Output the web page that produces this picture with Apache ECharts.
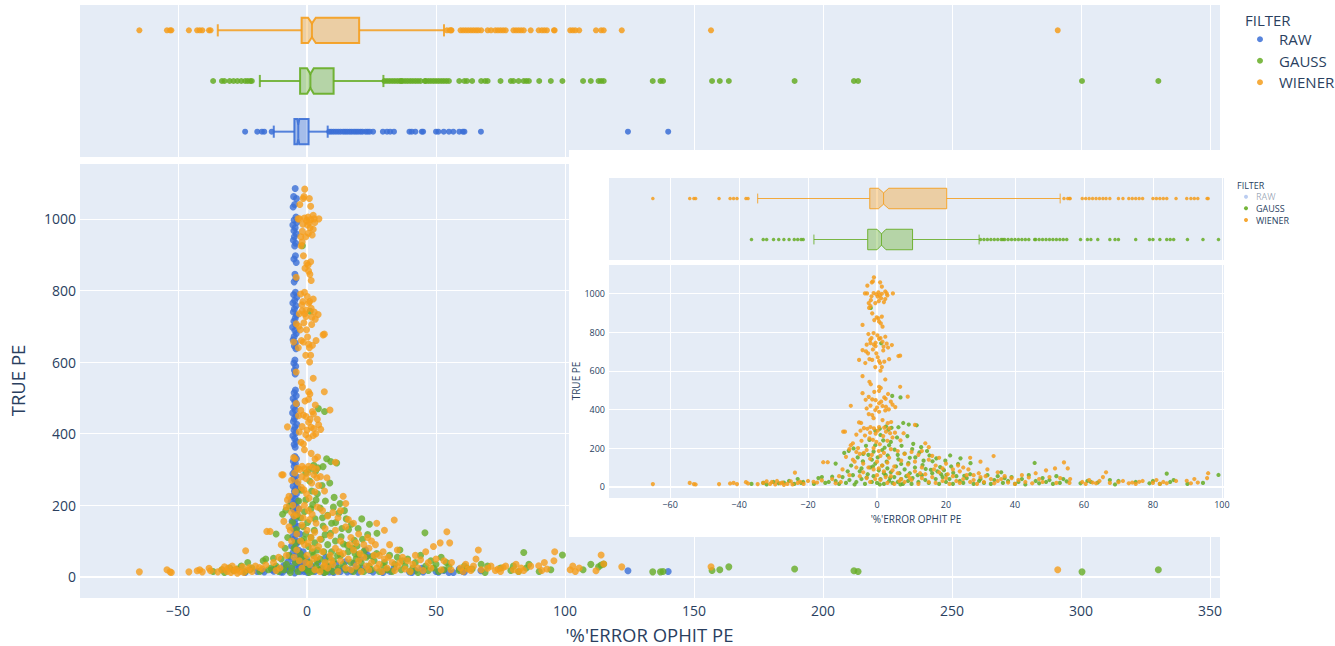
<!DOCTYPE html>
<html><head><meta charset="utf-8">
<script src="https://cdn.jsdelivr.net/npm/echarts@6/dist/echarts.min.js"></script>
<style>html,body{margin:0;padding:0;background:#fff}#chart{width:1335px;height:646px}</style>
</head><body><div id="chart"></div>
<script>
// ---------------- DATA ----------------
const filterNames = ['RAW', 'GAUSS', 'WIENER'];
const filterColors = ['#3b6fd6', '#66ad25', '#f59d1c'];

// box statistics (RAW, GAUSS, WIENER)
const boxLow   = [-12.9, -18.3, -34.6];
const boxQ1    = [-4.9, -2.7, -2.1];
const boxMed   = [-3.4, 1.3, 1.9];
const boxQ3    = [0.6, 10.3, 20.2];
const boxHigh  = [8.0, 29.6, 53.1];
const boxNotch = [0.4, 1.3, 1.5];

// [ '%'ERROR OPHIT PE , TRUE PE ]
const rawPoints = [
[-4.6,1085],[-5.2,1062],[-4.1,1057],[-4.8,1040],[-5.4,1033],[-4.3,1005],[-5.0,997],[-4.0,990],[-5.5,983],[-4.6,975],[-5.1,967],[-4.2,958],[-4.9,950],[-5.3,940],[-4.4,932],[-4.8,924],[-4.5,897],[-5.1,888],[-4.2,878],[-4.7,845],[-4.3,833],[-5.0,824],[-4.5,795],[-5.2,788],[-4.0,781],[-4.8,772],[-5.5,765],[-4.3,757],[-4.9,748],[-5.3,740],[-4.1,731],[-4.6,722],[-5.1,714],[-4.4,705],[-5.6,697],[-4.7,688],[-4.2,680],[-5.0,671],[-5.4,662],[-4.5,653],[-4.9,645],[-4.3,637],[-4.7,606],[-5.1,597],[-4.4,588],[-4.9,577],[-4.6,567],[-4.5,522],[-5.0,514],[-4.2,506],[-5.4,498],[-4.7,490],[-4.1,482],[-5.2,474],[-4.6,466],[-5.6,458],[-4.3,450],[-4.9,442],[-5.3,434],[-4.0,426],[-4.7,418],[-5.1,410],[-4.4,402],[-5.5,394],[-4.8,386],[-4.2,378],[-5.0,370],[-4.6,362],
[-4.7,336],[-4.1,330],[-5.3,323],[-4.5,316],[-5.0,309],[-3.9,302],[-4.8,295],[-5.5,288],[-4.3,281],[-5.1,274],[-4.6,267],[-3.8,260],[-5.4,253],[-4.4,246],[-4.9,239],[-4.1,232],[-5.6,225],[-4.5,218],[-3.7,211],[-5.0,204],[-4.3,197],[-5.3,190],[-4.7,183],[-3.9,176],[-5.1,169],[-4.4,162],[-5.8,155],[-4.8,148],[-3.6,141],[-5.2,134],[-4.5,127],[-4.0,120],[-5.5,113],[-4.9,106],[-3.4,99],[-4.2,92],[-6.0,86],[-4.7,80],[-3.2,74],[-5.4,68],[-4.0,62],[-6.6,57],[-2.8,52],[-5.0,47],[-7.4,42],[-3.6,38],[-1.8,34],[-5.8,30],[-8.2,26],[-4.4,23],[-0.9,20],[-6.9,17],[-2.6,15],[-9.5,13],[0.2,12],[-4.8,11],
[-2.0,60],[-1.0,45],[-0.5,30],[0.3,25],[0.6,18],[-1.5,70],[-3.0,28],[-2.2,40],[-1.2,15],[-0.2,50],[-3.3,190],[-3.0,245],[-2.8,120],[-6.2,210],
[-24.0,12],[-19.3,15],[-17.5,18],[-16.6,14],[-13.7,20],[-12.9,16],[-11.5,24],[-10.2,14],[-9.0,32],[-7.8,20],[1.8,30],[3.0,15],[4.2,40],[5.5,22],[6.5,12],[7.2,55],[8.0,28],[8.6,14],[9.4,20],[10.3,12],[11.2,35],[12.1,18],[13.0,15],[14.0,25],[14.8,42],[15.6,14],[16.5,20],[17.3,15],[18.2,38],[19.0,22],[19.8,13],[20.7,50],[21.5,25],[22.7,75],[23.5,60],[24.3,18],[25.6,14],[29.4,12],[31.0,20],[32.2,15],[33.7,25],[39.7,14],[40.6,12],[42.0,18],[44.5,24],[45.0,14],[50.0,15],[50.9,13],[53.0,18],[55.0,12],[56.7,12],[59.0,22],[60.4,15],[61.0,14],[67.4,17],[124.4,17],[140.0,15]
];

const gaussPoints = [
[4.4,470],[6.8,462],[1.2,742],[-1.8,925],[9.2,322],[11.5,318],[2.6,312],[4.2,305],[6.2,308],[7.6,330],[0.8,300],[-0.5,290],[3.3,295],
[-9.5,175],[-8.2,186],[-6.8,198],[-5.6,152],[-4.1,132],[-3.2,212],[-2.2,242],[-1.0,182],[0.2,152],[1.0,268],[2.2,202],[3.1,162],[4.0,232],[5.1,192],[6.2,142],[7.1,212],[8.0,172],[9.1,122],[10.2,195],[11.1,152],[12.3,178],[13.2,112],[14.1,92],[15.2,162],[16.1,132],[17.2,147],[18.3,102],[19.4,86],[20.1,62],[21.2,162],[22.1,72],[24.2,147],[25.3,57],[27.1,122],[-12.0,120],[-7.5,110],[-2.5,165],[-0.5,215],[1.8,240],[5.8,255],[8.8,262],[12.8,205],[2.8,130],[-1.2,105],[19.8,135],[23.5,118],[14.5,185],[10.5,222],
[-18.3,15],[-17.0,45],[-16.0,50],[-15.0,20],[-14.0,25],[-12.0,30],[-11.0,15],[-10.0,50],[-9.0,20],[-8.0,35],[-7.0,60],[-6.0,25],[-5.0,80],[-4.5,40],[-3.5,15],[-2.7,65],[-2.0,100],[-1.5,25],[-1.0,55],[-0.5,120],[0.0,20],[0.5,85],[1.0,40],[1.5,110],[2.0,15],[2.5,60],[3.0,95],[3.5,30],[4.0,75],[4.5,20],[5.0,50],[5.5,105],[6.0,25],[6.5,70],[7.0,40],[7.5,15],[8.0,90],[8.5,55],[9.0,30],[9.5,70],[10.0,15],[10.3,45],[11.0,100],[12.0,25],[13.0,60],[14.0,35],[15.0,20],[16.0,70],[17.0,40],[18.0,15],[19.0,50],[20.0,25],[21.0,40],[22.0,15],[23.0,55],[24.0,30],[25.0,20],[26.0,45],[27.0,65],[28.0,15],[29.6,30],[-6.5,12],[-3.0,48],[0.8,12],[3.8,45],[6.8,12],[11.8,60],[15.6,88],[18.6,65],[-13.0,52],[-4.0,170],[-1.5,140],[1.5,190],[3.5,215],[6.0,165],[9.5,150],[-8.5,80],[-4.5,95],[2.0,70],[7.0,118],[13.5,135],[17.5,80],[21.5,105],
[-36.4,15],[-33.0,20],[-32.0,12],[-30.0,25],[-28.5,18],[-27.0,22],[-25.5,30],[-24.0,15],[-23.0,40],[-22.0,20],[-21.4,25],
[30.0,40],[31.0,20],[32.0,60],[33.0,15],[34.0,35],[35.0,55],[36.0,75],[36.5,20],[37.0,45],[38.0,30],[39.0,50],[40.0,15],[41.0,25],[42.0,40],[43.0,12],[44.0,60],[45.7,123],[46.0,30],[47.0,18],[48.0,45],[49.0,25],[50.0,35],[51.0,15],[52.0,55],[53.0,20],[54.0,40],[55.0,28],[59.0,18],[61.0,30],[62.0,25],[64.0,22],[67.5,35],[69.0,12],[70.0,30],[75.0,25],[79.0,18],[80.0,30],[82.0,15],[84.0,68],[85.0,25],[86.0,35],[90.0,15],[94.5,20],[99.0,61],[107.0,20],[110.0,35],[113.0,28],[114.0,33],[115.0,36],[134.0,14],[137.0,14],[138.0,15],[157.0,18],[160.0,20],[163.5,28],[189.0,22],[212.0,17],[213.6,15],[300.4,14],[330.0,20]
];

const wienerPoints = [
[-0.9,1083],[-1.5,1057],[-1.2,1062],[0.9,1057],[1.4,1035],[-2.9,1000],[-1.0,1002],[0.4,1005],[1.4,998],[2.4,1010],[4.6,1000],[0.2,983],[1.2,975],[2.4,971],[-2.4,950],[-1.9,935],[-2.3,925],[-0.5,950],[-1.4,897],[0.4,871],[-0.1,876],[1.4,880],[0.6,854],[1.1,845],[1.6,828],[-4.2,837],[-1.0,795],[-2.5,790],[-1.6,769],[0.1,783],[1.0,769],[2.4,776],[-1.9,743],[-0.9,735],[-0.4,727],[0.6,765],[1.6,750],[-4.2,707],[-2.6,690],[-5.2,656],[-1.4,656],[0.6,650],[2.1,647],[4.3,733],[6.2,676],[6.7,678],[-0.5,619],[1.4,619],[2.4,555],[-4.2,572],[-2.2,543],[0.6,517],[1.1,511],[6.7,517],[-0.8,491],[0.6,496],[-2.4,465],[-1.4,452],[-0.4,448],[2.1,462],[-4.2,484],[8.9,466],[0.6,432],[1.6,418],[2.6,414],[-7.6,419],[-0.5,397],[0.6,388],[-2.4,376],[-1.4,371],[-4.6,330],[-5.2,333],[-3.8,303],[-2.8,300],[-1.9,309],[-0.9,302],[0.6,309],[2.1,306],[3.6,302],[3.1,329],[4.1,335],[3.8,277],[5.2,280],[7.7,277],[11.0,320],[-9.8,285],[-9.3,285],[-7.6,215],[-7.0,225],[-2.2,250],[-1.2,243],[-0.2,232],[5.3,412],[-3.2,700],[-0.2,690],[1.8,705],[-2.8,1040],[3.0,990],[-1.6,985],[2.0,955],[-0.8,862],[-2.0,760],[3.2,720],[-3.4,640],[1.0,600],[-1.8,530],[3.2,480],[4.0,440],[-3.0,405],[2.4,395],[-1.0,355],[1.6,345],[-6.0,270],[-3.5,265],[-0.4,275],[1.8,262],[4.5,255],[0.8,220],[3.0,238],[6.8,240],[-4.5,238],
[-3.5,1000],[-0.2,995],[2.8,1000],[0.8,990],[-1.8,965],[0.5,960],[-0.4,745],[2.8,740],[-3.0,735],[1.9,725],[-1.2,710],[0.2,670],[3.5,660],[-2.2,660],[0.9,640],[2.5,455],[-3.3,450],[1.2,440],[4.5,425],[-1.9,420],[0.0,410],[3.4,400],[-4.8,290],[-2.0,280],[0.2,290],[2.6,285],[-5.5,200],[-3.8,175],[-1.5,165],[1.0,160],[3.5,150],[-6.5,130],[-2.5,100],[0.5,95],[4.5,85],[-5.0,55],[-0.5,40],[2.5,50],[6.5,30],[9.5,45],[12.5,70],[16.5,90],[20.5,65],[23.5,110],[26.5,90],[29.5,70],[31.5,55],
[-8.0,195],[-6.0,180],[-5.0,170],[-3.0,190],[-1.0,200],[0.5,185],[2.0,175],[4.0,195],[6.0,185],[8.0,170],[10.0,180],[12.0,165],[13.0,185],[14.0,225],[15.0,205],[16.0,160],[-15.6,127],[-14.3,127],[-9.0,155],[-7.0,140],[-4.0,120],[-2.0,145],[0.0,130],[1.5,110],[3.0,125],[5.0,105],[7.0,135],[9.0,115],[11.0,130],[13.0,100],[15.0,140],[17.0,110],[18.0,150],[19.0,95],[20.0,120],[22.0,90],[24.0,80],[25.0,100],[27.0,150],[28.0,60],[30.0,130],[32.0,90],[33.8,159],[35.0,75],[36.0,40],[-10.0,90],[-8.0,60],[-6.0,100],[-4.0,75],[-3.0,45],[-2.0,25],[-1.0,90],[0.0,60],[1.0,35],[2.0,80],[3.0,20],[4.0,55],[5.0,15],[6.0,70],[7.0,40],[8.0,25],[9.0,60],[10.0,35],[11.0,80],[12.0,15],[13.0,45],[14.0,65],[15.0,25],[16.0,50],[17.0,20],[18.0,75],[19.0,30],[20.0,45],[21.0,15],[22.0,55],[23.0,30],[24.0,20],[25.0,40],[26.0,60],[27.0,25],[28.0,35],[29.0,15],[30.0,50],[31.0,25],[33.0,40],[34.0,18],[35.0,30],[37.0,55],[38.0,22],[39.0,45],[40.0,15],[41.0,35],[42.0,60],[43.0,25],[44.0,48],[45.0,18],[46.0,70],[47.0,40],[48.0,25],[49.0,85],[50.0,50],[51.6,95],[52.0,20],[53.1,45],
[-65.0,14],[-54.3,20],[-53.1,14],[-52.6,12],[-45.8,14],[-42.6,17],[-41.6,20],[-40.6,14],[-38.0,24],[-37.4,17],[-34.6,14],[-33.0,20],[-32.0,28],[-31.0,15],[-30.5,25],[-29.5,12],[-29.0,30],[-28.0,18],[-27.5,22],[-27.0,10],[-26.0,15],[-25.0,28],[-24.5,12],[-23.8,73],[-23.0,20],[-22.3,26],[-21.3,15],[-20.0,30],[-18.4,26],[-17.4,22],[-16.0,33],[-13.0,40],[-12.0,18],[-11.0,55],[-10.5,25],
[54.2,126],[55.3,95],[55.8,20],[56.0,40],[59.5,25],[60.5,15],[61.5,35],[62.5,22],[63.5,18],[64.5,30],[65.5,50],[66.4,75],[67.5,20],[70.0,24],[71.3,30],[73.0,18],[74.0,22],[75.0,15],[76.0,26],[77.0,30],[80.0,20],[81.0,35],[82.0,15],[83.0,25],[84.0,18],[86.7,30],[89.8,31],[91.0,18],[92.0,40],[93.0,22],[95.7,45],[96.0,70],[102.0,20],[103.0,30],[104.0,15],[105.5,25],[112.0,17],[114.0,61],[115.0,36],[122.0,28],[156.6,28],[291.0,20]
];

const allPoints = [rawPoints, gaussPoints, wienerPoints];

// ---------------- CHART ----------------
const FONT = "'Open Sans', 'Noto Sans', sans-serif";
const TXT = '#2a3f5f';
const BG = '#E5ECF6';
const fmt = v => (v < 0 ? '\u2212' + Math.abs(v) : String(v));

function boxRender(lineW) {
  return function (params, api) {
    const cat = api.value(0);
    const lo = api.value(1), q1 = api.value(2), med = api.value(3), q3 = api.value(4), hi = api.value(5), nh = api.value(6), fi = api.value(7);
    const color = filterColors[fi];
    const band = api.size([0, 1])[1];
    const y = api.coord([med, cat])[1];
    const X = v => api.coord([v, cat])[0];
    const hh = band * 0.25, inner = hh * 0.55, cap = band * 0.12;
    const xq1 = X(q1), xq3 = X(q3), xm = X(med), xa = X(med - nh), xb = X(med + nh), xl = X(lo), xh = X(hi);
    const pts = [[xq1, y - hh], [xa, y - hh], [xm, y - inner], [xb, y - hh], [xq3, y - hh], [xq3, y + hh], [xb, y + hh], [xm, y + inner], [xa, y + hh], [xq1, y + hh]];
    const ls = { stroke: color, lineWidth: lineW, opacity: 0.85 };
    return { type: 'group', children: [
      { type: 'line', shape: { x1: xl, y1: y, x2: xq1, y2: y }, style: ls },
      { type: 'line', shape: { x1: xq3, y1: y, x2: xh, y2: y }, style: ls },
      { type: 'line', shape: { x1: xl, y1: y - cap, x2: xl, y2: y + cap }, style: ls },
      { type: 'line', shape: { x1: xh, y1: y - cap, x2: xh, y2: y + cap }, style: ls },
      { type: 'polygon', shape: { points: pts }, style: { fill: echarts.color.modifyAlpha(color, 0.42), stroke: color, lineWidth: lineW, opacity: 0.9 } },
      { type: 'line', shape: { x1: xm, y1: y - inner, x2: xm, y2: y + inner }, style: ls }
    ] };
  };
}

function boxData(indices) {
  return indices.map((fi, k) => [k, boxLow[fi], boxQ1[fi], boxMed[fi], boxQ3[fi], boxHigh[fi], boxNotch[fi], fi]);
}
function outliers(fi, k) {
  return allPoints[fi].filter(p => p[0] < boxLow[fi] || p[0] > boxHigh[fi]).map(p => [p[0], k]);
}

const hiddenAxis = { axisLine: { show: false }, axisTick: { show: false } };
const whiteSplit = (w) => ({ show: true, lineStyle: { color: '#ffffff', width: w } });
const zeroMark = (dir, z) => ({
  silent: true, symbol: ['none', 'none'], z: z, label: { show: false },
  lineStyle: { color: '#ffffff', width: 2, type: 'solid' }, emphasis: { disabled: true },
  data: dir.map(d => (d === 'x' ? { xAxis: 0 } : { yAxis: 0 }))
});

const series = [];
// main box panel
series.push({ type: 'custom', name: 'box-main', xAxisIndex: 0, yAxisIndex: 0, z: 3, data: boxData([0, 1, 2]), encode: { x: [1, 2, 3, 4, 5], y: 0 }, renderItem: boxRender(2), silent: true });
[0, 1, 2].forEach(fi => {
  series.push({ type: 'scatter', name: filterNames[fi], xAxisIndex: 0, yAxisIndex: 0, z: 3, symbolSize: 6,
    itemStyle: { color: filterColors[fi], opacity: 0.85 }, data: outliers(fi, fi),
    markLine: fi === 0 ? zeroMark(['x'], 1) : undefined });
});
// main scatter panel
[0, 1, 2].forEach(fi => {
  series.push({ type: 'scatter', name: filterNames[fi], xAxisIndex: 1, yAxisIndex: 1, z: 2, symbolSize: 7,
    itemStyle: { color: filterColors[fi], opacity: 0.8 }, data: allPoints[fi],
    markLine: fi === 0 ? zeroMark(['x', 'y'], 1) : undefined });
});
// inset box panel (RAW hidden)
series.push({ type: 'custom', name: 'box-inset', xAxisIndex: 2, yAxisIndex: 2, z: 14, data: boxData([1, 2]), encode: { x: [1, 2, 3, 4, 5], y: 0 }, renderItem: boxRender(1), silent: true });
[1, 2].forEach((fi, k) => {
  series.push({ type: 'scatter', name: filterNames[fi], xAxisIndex: 2, yAxisIndex: 2, z: 14, symbolSize: 3.5,
    itemStyle: { color: filterColors[fi], opacity: 0.85 }, data: outliers(fi, k),
    markLine: k === 0 ? zeroMark(['x'], 12) : undefined });
});
// inset scatter panel
[1, 2].forEach((fi, k) => {
  series.push({ type: 'scatter', name: filterNames[fi], xAxisIndex: 3, yAxisIndex: 3, z: 13, symbolSize: 4.2,
    itemStyle: { color: filterColors[fi], opacity: 0.85 }, data: allPoints[fi],
    markLine: k === 0 ? zeroMark(['x', 'y'], 12) : undefined });
});

const insetLegendY = [196.7, 208.3, 220];
const graphics = [
  { type: 'rect', z: 10, silent: true, shape: { x: 569, y: 150, width: 780, height: 387 }, style: { fill: '#ffffff' } },
  { type: 'text', z: 1, x: 1245, y: 20, style: { text: 'FILTER', fontSize: 15, fontFamily: FONT, fill: TXT, verticalAlign: 'middle', align: 'left' } },
  { type: 'text', z: 16, x: 1237, y: 185, style: { text: 'FILTER', fontSize: 9, fontFamily: FONT, fill: TXT, verticalAlign: 'middle', align: 'left' } }
];
filterNames.forEach((n, i) => {
  const hidden = i === 0;
  graphics.push({ type: 'circle', z: 16, shape: { cx: 1246, cy: insetLegendY[i], r: 2 }, style: { fill: filterColors[i], opacity: hidden ? 0.35 : 0.9 } });
  graphics.push({ type: 'text', z: 16, x: 1256, y: insetLegendY[i], style: { text: n, fontSize: 9, fontFamily: FONT, fill: TXT, opacity: hidden ? 0.45 : 1, verticalAlign: 'middle', align: 'left' } });
});

const gridBase = { show: true, backgroundColor: BG, borderWidth: 0, containLabel: false, outerBoundsMode: 'none' };
const option = {
  backgroundColor: '#ffffff',
  animation: false,
  textStyle: { fontFamily: FONT },
  grid: [
    Object.assign({ left: 79, top: 5, width: 1141, height: 152, z: 0 }, gridBase),
    Object.assign({ left: 79, top: 163, width: 1141, height: 435, z: 0 }, gridBase),
    Object.assign({ left: 608, top: 178, width: 616, height: 82, z: 11 }, gridBase),
    Object.assign({ left: 608, top: 264, width: 616, height: 234, z: 11 }, gridBase)
  ],
  xAxis: [
    Object.assign({ gridIndex: 0, type: 'value', min: -88.4, max: 353.9, minInterval: 50, maxInterval: 50, z: 1,
      axisLabel: { show: false }, splitLine: whiteSplit(1) }, hiddenAxis),
    Object.assign({ gridIndex: 1, type: 'value', min: -88.4, max: 353.9, minInterval: 50, maxInterval: 50, z: 1,
      axisLabel: { show: true, formatter: fmt, fontSize: 14, color: TXT, margin: 5, showMinLabel: false, showMaxLabel: false },
      splitLine: whiteSplit(1),
      name: "'%'ERROR OPHIT PE", nameLocation: 'middle', nameGap: 27, nameTextStyle: { fontSize: 18.5, lineHeight: 19, color: TXT } }, hiddenAxis),
    Object.assign({ gridIndex: 2, type: 'value', min: -78, max: 100.6, minInterval: 20, maxInterval: 20, z: 12,
      axisLabel: { show: false }, splitLine: whiteSplit(1) }, hiddenAxis),
    Object.assign({ gridIndex: 3, type: 'value', min: -78, max: 100.6, minInterval: 20, maxInterval: 20, z: 12,
      axisLabel: { show: true, formatter: fmt, fontSize: 9, color: TXT, margin: 2, showMinLabel: false, showMaxLabel: false },
      splitLine: whiteSplit(1),
      name: "'%'ERROR OPHIT PE", nameLocation: 'middle', nameGap: 16, nameTextStyle: { fontSize: 10, color: TXT } }, hiddenAxis)
  ],
  yAxis: [
    Object.assign({ gridIndex: 0, type: 'category', data: filterNames, z: 1, axisLabel: { show: false }, splitLine: { show: false } }, hiddenAxis),
    Object.assign({ gridIndex: 1, type: 'value', min: -59, max: 1156, minInterval: 200, maxInterval: 200, z: 1,
      axisLabel: { show: true, formatter: fmt, fontSize: 14, color: TXT, margin: 3, showMinLabel: false, showMaxLabel: false },
      splitLine: whiteSplit(1),
      name: 'TRUE PE', nameLocation: 'middle', nameGap: 52, nameTextStyle: { fontSize: 18.5, lineHeight: 19, color: TXT } }, hiddenAxis),
    Object.assign({ gridIndex: 2, type: 'category', data: ['GAUSS', 'WIENER'], z: 12, axisLabel: { show: false }, splitLine: { show: false } }, hiddenAxis),
    Object.assign({ gridIndex: 3, type: 'value', min: -58, max: 1152, minInterval: 200, maxInterval: 200, z: 12,
      axisLabel: { show: true, formatter: fmt, fontSize: 9, color: TXT, margin: 3, showMinLabel: false, showMaxLabel: false },
      splitLine: whiteSplit(1),
      name: 'TRUE PE', nameLocation: 'middle', nameGap: 26, nameTextStyle: { fontSize: 10, color: TXT } }, hiddenAxis)
  ],
  legend: {
    data: filterNames, orient: 'vertical', left: 1252, top: 23.5, itemWidth: 28, itemHeight: 6, itemGap: 0,
    icon: 'circle', selectedMode: false, z: 1,
    textStyle: { fontSize: 15, color: TXT, lineHeight: 21.5, fontFamily: FONT }
  },
  graphic: { elements: graphics },
  series: series
};

const chart = echarts.init(document.getElementById('chart'), null, { renderer: 'svg' });
chart.setOption(option);
</script>
</body></html>
